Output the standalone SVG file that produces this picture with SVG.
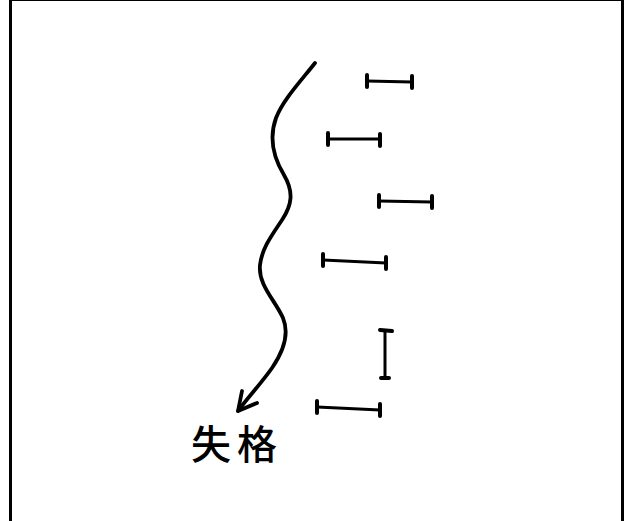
<svg xmlns="http://www.w3.org/2000/svg" width="627" height="521" viewBox="0 0 627 521">
<style>
.ink{fill:none;stroke:#000;stroke-linecap:round;stroke-linejoin:round}
.bar{stroke-width:3}
.tick{stroke-width:4}
.curve{stroke-width:3.8}
.lbl{font-family:"Noto Sans CJK JP","Noto Sans CJK SC",sans-serif;font-size:40px;font-weight:500;fill:#000}
</style>
<rect x="0" y="0" width="627" height="521" fill="#fff"/>
<rect id="frame" x="10.5" y="-0.5" width="612" height="530" fill="none" stroke="#000" stroke-width="3"/>
<g id="connectors">
<path class="ink curve" d="M315,63 C300,82 283,100 276,118 C268,140 275,160 284,175 C294,192 292,205 282,220 C272,235 262,248 260,265 C258,285 275,300 283,318 C290,335 283,352 272,368 C260,385 248,397 238,411"/>
<path class="ink curve" d="M242,391 L238,411 L257,403"/>
</g>
<g id="bar1"><path class="ink bar" d="M367,81 L412,82"/><path class="ink tick" d="M367,75 L367,87 M412,76 L412,88"/></g>
<g id="bar2"><path class="ink bar" d="M328,139 L380,139"/><path class="ink tick" d="M328,133 L328,145 M380,134 L380,146"/></g>
<g id="bar3"><path class="ink bar" d="M379,201 L432,202"/><path class="ink tick" d="M379,195 L379,207 M432,196 L432,208"/></g>
<g id="bar4"><path class="ink bar" d="M323,260 L386,263"/><path class="ink tick" d="M323,254 L323,266 M386,257 L386,269"/></g>
<g id="bar5"><path class="ink bar" d="M385,331 L385,378"/><path class="ink tick" d="M380,330 L392,331 M381,378 L389,378"/></g>
<g id="bar6"><path class="ink bar" d="M317,407 L380,410"/><path class="ink tick" d="M317,401 L317,413 M380,404 L380,416"/></g>
<g id="label"><text class="lbl" x="191" y="459" letter-spacing="6">失格</text></g>
</svg>
